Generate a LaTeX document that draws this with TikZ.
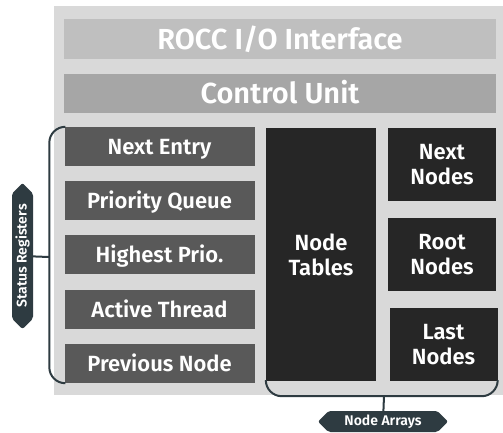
\documentclass[tikz,border=0pt]{standalone}
\usepackage{fontspec}
\setmainfont{Fira Sans}[BoldFont={Fira Sans SemiBold}]
\usepackage{tikz}
\usetikzlibrary{positioning, shapes.symbols, calc}

\definecolor{panelgray}{HTML}{D9D9D9}
\definecolor{roccgray}{HTML}{BFBFBF}
\definecolor{ctrlgray}{HTML}{A6A6A6}
\definecolor{reggray}{HTML}{595959}
\definecolor{arrdark}{HTML}{262626}
\definecolor{tagslate}{HTML}{2E3B41}

\tikzset{
  barbox/.style={minimum width=432pt, minimum height=40pt, inner sep=0pt,
    text height=20pt, text depth=0pt,
    text=white, font=\fontsize{29}{32}\selectfont\bfseries},
  regbox/.style={fill=reggray, minimum width=190pt, minimum height=39pt, inner sep=0pt,
    text height=15.2pt, text depth=0pt,
    text=white, font=\fontsize{22}{25}\selectfont\bfseries},
  arrbox/.style={fill=arrdark, minimum width=108pt, minimum height=73pt, inner sep=0pt,
    text=white, align=center, font=\fontsize{22}{25}\selectfont\bfseries},
  tagbox/.style={signal, fill=tagslate, text=white, inner sep=0pt, rounded corners=2pt,
    minimum height=21pt, font=\fontsize{14}{16}\selectfont\bfseries},
  brace/.style={draw=tagslate, line width=2pt, rounded corners=16pt},
}

\begin{document}
\begin{tikzpicture}[x=1pt, y=-1pt]
  \useasboundingbox (0,0) rectangle (503,432);
  % panel
  \fill[panelgray] (54,6) rectangle (503,395);
  % top bars
  \node[barbox, fill=roccgray] (rocc) at (280,39) {ROCC I/O Interface};
  \node[barbox, fill=ctrlgray, minimum height=39pt] (ctrl) at (280,93.5) {Control Unit};
  % status registers
  \node[regbox] (reg1) at (159.5,146.5) {Next Entry};
  \node[regbox] (reg2) at (159.5,200.5) {Priority Queue};
  \node[regbox] (reg3) at (159.5,254.5) {Highest Prio.};
  \node[regbox] (reg4) at (159.5,309.5) {Active Thread};
  \node[regbox] (reg5) at (159.5,363.5) {Previous Node};
  % node arrays
  \node[arrbox, minimum width=110pt, minimum height=253pt] (tables) at (321,254.5) {Node\\Tables};
  \node[arrbox] (nextn) at (442,164.5) {Next\\Nodes};
  \node[arrbox] (rootn) at (442,254.5) {Root\\Nodes};
  \node[arrbox] (lastn) at (443.5,344.5) {Last\\Nodes};
  % braces
  \draw[brace] (reg1.north west) -| ($(reg5.south west)+(-15,0)$) -- (reg5.south west);
  \coordinate (lbmid) at (49,257);
  \node[tagbox, rotate=90, minimum width=146pt, signal to=west and east] (sreg) at (22.5,256) {Status Registers};
  \draw[tagslate, line width=2pt] (sreg) -- (lbmid);
  \draw[brace] (tables.south west) |- ($(lastn.south east)+(0,15)$) -- (lastn.south east);
  \coordinate (bbmid) at (384,396);
  \node[tagbox, minimum width=130pt, signal to=west and east] (narr) at (383,421.5) {Node Arrays};
  \draw[tagslate, line width=2pt] (bbmid) -- (narr);
\end{tikzpicture}
\end{document}
